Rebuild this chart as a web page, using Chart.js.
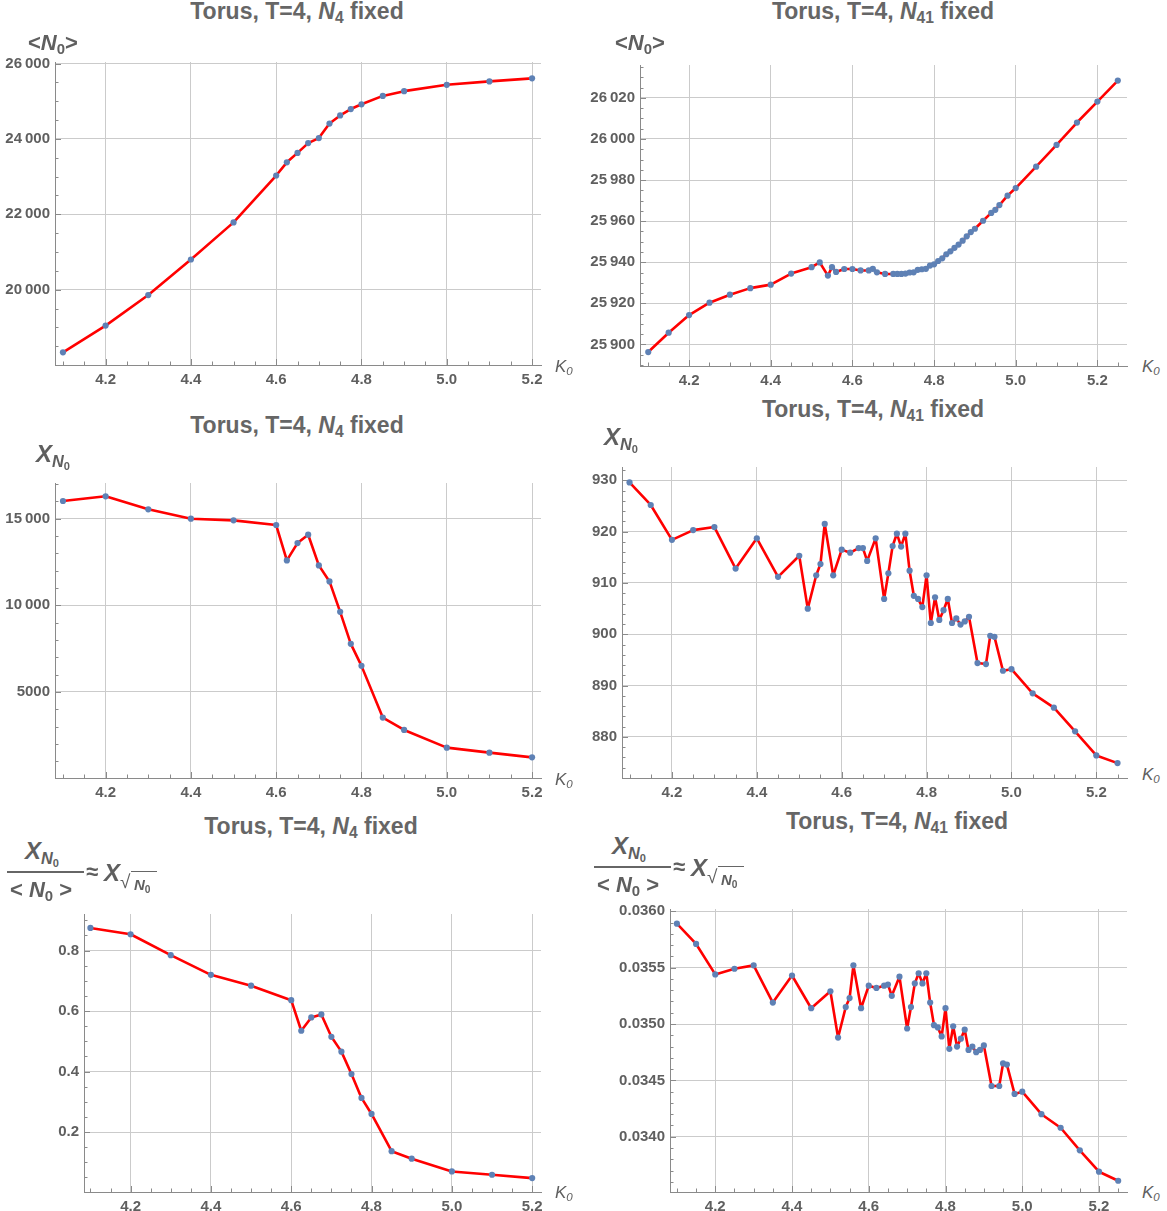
<!DOCTYPE html>
<html>
<head>
<meta charset="utf-8">
<script src="https://cdn.jsdelivr.net/npm/chart.js@4.4.1/dist/chart.umd.min.js"></script>
<style>
body { margin: 0; background: #fff; width: 1167px; height: 1211px; position: relative; overflow: hidden;
       font-family: "Liberation Sans", Arial, sans-serif; color: #5f5f5f; }
canvas { position: absolute; }
.lbl { position: absolute; white-space: nowrap; line-height: 1; z-index: 2; }
.title { font-weight: bold; font-size: 23px; transform: translateX(-50%); color: #666; }
.ylab { font-weight: bold; font-size: 22px; }
.big { font-weight: bold; font-size: 24px; }
.klab { font-style: italic; font-size: 17px; }
sub { font-size: 0.68em; vertical-align: -0.28em; line-height: 0; }
.bar { position: absolute; height: 1.5px; background: #666; z-index: 2; }
</style>
</head>
<body>
<canvas id="c1"></canvas>
<canvas id="c2"></canvas>
<canvas id="c3"></canvas>
<canvas id="c4"></canvas>
<canvas id="c5"></canvas>
<canvas id="c6"></canvas>

<!-- titles -->
<div class="lbl title" style="left:297px;top:0px">Torus, T=4, <i>N</i><sub>4</sub> fixed</div>
<div class="lbl title" style="left:883px;top:0px">Torus, T=4, <i>N</i><sub>41</sub> fixed</div>
<div class="lbl title" style="left:297px;top:414px">Torus, T=4, <i>N</i><sub>4</sub> fixed</div>
<div class="lbl title" style="left:873px;top:398px">Torus, T=4, <i>N</i><sub>41</sub> fixed</div>
<div class="lbl title" style="left:311px;top:815px">Torus, T=4, <i>N</i><sub>4</sub> fixed</div>
<div class="lbl title" style="left:897px;top:810px">Torus, T=4, <i>N</i><sub>41</sub> fixed</div>

<!-- y axis labels -->
<div class="lbl ylab" style="left:28px;top:32px">&lt;<i>N</i><sub>0</sub>&gt;</div>
<div class="lbl ylab" style="left:615px;top:32px">&lt;<i>N</i><sub>0</sub>&gt;</div>
<div class="lbl big" style="left:36px;top:442px"><i>X</i><sub><i>N</i><sub>0</sub></sub></div>
<div class="lbl big" style="left:604px;top:425px"><i>X</i><sub><i>N</i><sub>0</sub></sub></div>
<div id="frac1"></div>
<div id="frac2"></div>

<!-- x axis labels -->
<div class="lbl klab" style="left:555px;top:358px">K<sub>0</sub></div>
<div class="lbl klab" style="left:1142px;top:358px">K<sub>0</sub></div>
<div class="lbl klab" style="left:555px;top:771px">K<sub>0</sub></div>
<div class="lbl klab" style="left:1142px;top:766px">K<sub>0</sub></div>
<div class="lbl klab" style="left:555px;top:1184px">K<sub>0</sub></div>
<div class="lbl klab" style="left:1142px;top:1184px">K<sub>0</sub></div>

<script>
// K0 grid for the N4-fixed runs
const kN4 = [4.1, 4.2, 4.3, 4.4, 4.5, 4.6, 4.625, 4.65, 4.675, 4.7, 4.725, 4.75, 4.775, 4.8,
             4.85, 4.9, 5.0, 5.1, 5.2];
const meanN0_N4 = [18340, 19050, 19860, 20803, 21787, 23030, 23379, 23630, 23889, 24023, 24408,
                   24623, 24792, 24918, 25141, 25267, 25436, 25526, 25606];
const chiN0_N4 = [16021, 16291, 15540, 15000, 14904, 14634, 12592, 13593, 14075, 12303, 11378,
                  9624, 7775, 6503, 3516, 2803, 1782, 1493, 1223];
const ratio_N4 = [0.875, 0.854, 0.785, 0.720, 0.684, 0.636, 0.535, 0.579, 0.589, 0.515, 0.466,
                  0.392, 0.313, 0.260, 0.137, 0.112, 0.070, 0.059, 0.048];

// K0 grid for the N41-fixed runs
const kN41 = [4.1, 4.15, 4.2, 4.25, 4.3, 4.35, 4.4, 4.45, 4.5, 4.52, 4.54, 4.55, 4.56, 4.58,
              4.6, 4.62, 4.64, 4.65, 4.66, 4.68, 4.7, 4.71, 4.72, 4.73, 4.74, 4.75, 4.76, 4.77,
              4.78, 4.79, 4.8, 4.81, 4.82, 4.83, 4.84, 4.85, 4.86, 4.87, 4.88, 4.89, 4.9, 4.92,
              4.94, 4.95, 4.96, 4.98, 5.0, 5.05, 5.1, 5.15, 5.2, 5.25];
const meanN0_N41 = [25896.3, 25905.7, 25914.3, 25920.3, 25924.2, 25927.4, 25929.1, 25934.5,
                    25937.6, 25939.9, 25933.5, 25937.6, 25935.3, 25936.7, 25936.7, 25936.0,
                    25936.0, 25936.8, 25935.1, 25934.3, 25934.3, 25934.3, 25934.3, 25934.5,
                    25935.0, 25935.1, 25936.3, 25936.6, 25936.8, 25938.4, 25939.0, 25940.6,
                    25941.9, 25943.9, 25945.3, 25947.0, 25948.6, 25950.5, 25952.6, 25954.7,
                    25956.3, 25960.2, 25964.0, 25965.5, 25967.8, 25972.4, 25976.1, 25986.5,
                    25997.1, 26008.0, 26018.2, 26028.4];
const chiN0_N41 = [929.6, 925.2, 918.4, 920.3, 920.9, 912.8, 918.7, 911.2, 915.3, 905.0, 911.5,
                   913.7, 921.5, 911.5, 916.5, 915.9, 916.8, 916.8, 914.3, 918.7, 906.9, 911.9,
                   917.2, 919.6, 917.1, 919.6, 912.4, 907.5, 906.9, 905.3, 911.5, 902.2, 907.2,
                   902.8, 904.7, 906.9, 902.2, 903.1, 901.9, 902.5, 903.4, 894.4, 894.2, 899.7,
                   899.5, 892.9, 893.2, 888.5, 885.7, 881.1, 876.4, 874.9];
const ratio_N41 = [0.03589, 0.03571, 0.03544, 0.03549, 0.03552, 0.03519, 0.03543, 0.03514,
                   0.03529, 0.03488, 0.03515, 0.03523, 0.03552, 0.03514, 0.03534, 0.03532,
                   0.03534, 0.03535, 0.03525, 0.03542, 0.03496, 0.03515, 0.03536, 0.03545,
                   0.03536, 0.03545, 0.03519, 0.03499, 0.03497, 0.03489, 0.03514, 0.03478,
                   0.03498, 0.03480, 0.03487, 0.03495, 0.03477, 0.03480, 0.03475, 0.03477,
                   0.03481, 0.03445, 0.03445, 0.03465, 0.03464, 0.03438, 0.03440, 0.03420,
                   0.03408, 0.03388, 0.03369, 0.03361];

const onStep = (v, step) => Math.abs(v / step - Math.round(v / step)) < 1e-6;

// every multiple of step inside the axis range (major + minor)
function stepTicks(scale, step) {
  const out = [];
  for (let k = Math.ceil(scale.min / step - 1e-9); k * step <= scale.max + 1e-12; k++) {
    out.push({ value: parseFloat((k * step).toFixed(8)) });
  }
  scale.ticks = out;
}

// thin-space digit grouping like 26 000
const grouped = v => v >= 10000 ? String(Math.round(v)).replace(/(\d+)(\d{3})$/, '$1\u2009$2') : String(Math.round(v));

// short tick marks pointing into the frame
const ticksInside = {
  id: 'ticksInside',
  beforeDatasetsDraw(chart, args, opts) {
    const { ctx, chartArea: a, scales: { x, y } } = chart;
    ctx.save();
    ctx.strokeStyle = '#8a8a8a';
    ctx.lineWidth = 1;
    ctx.beginPath();
    x.ticks.forEach(t => {
      const px = Math.round(x.getPixelForValue(t.value)) + 0.5;
      const len = onStep(t.value, opts.xMajor) ? 6 : 3.5;
      ctx.moveTo(px, a.bottom);
      ctx.lineTo(px, a.bottom - len);
    });
    y.ticks.forEach(t => {
      const py = Math.round(y.getPixelForValue(t.value)) + 0.5;
      const len = onStep(t.value, opts.yMajor) ? 6 : 3.5;
      ctx.moveTo(a.left, py);
      ctx.lineTo(a.left + len, py);
    });
    ctx.stroke();
    ctx.restore();
  }
};

const tickFont = { family: '"Liberation Sans", Arial, sans-serif', size: 15, weight: 'bold' };

function panel(id, box, kx, vals, xr, yr, yMinor, yMajor, yFmt) {
  const padL = 64, padT = 14, padR = 10, padB = 30;
  const cv = document.getElementById(id);
  cv.width = box.r - box.l + padL + padR;
  cv.height = box.b - box.t + padT + padB;
  cv.style.left = (box.l - padL) + 'px';
  cv.style.top = (box.t - padT) + 'px';

  new Chart(cv, {
    type: 'scatter',
    data: {
      datasets: [{
        data: kx.map((k, i) => ({ x: k, y: vals[i] })),
        showLine: true,
        borderColor: '#ff0000',
        borderWidth: 2.6,
        borderJoinStyle: 'round',
        borderCapStyle: 'round',
        pointRadius: 3.1,
        pointBorderWidth: 0,
        pointBackgroundColor: '#5e81b5',
        tension: 0
      }]
    },
    options: {
      responsive: false,
      animation: false,
      layout: { autoPadding: false, padding: { left: 0, top: padT, right: padR, bottom: 0 } },
      plugins: { legend: { display: false }, tooltip: { enabled: false },
                 ticksInside: { xMajor: 0.2, yMajor: yMajor } },
      scales: {
        x: {
          type: 'linear', min: xr[0], max: xr[1],
          afterBuildTicks: s => stepTicks(s, 0.05),
          afterFit: s => { s.height = padB; },
          border: { color: '#8a8a8a', width: 1 },
          grid: { drawTicks: false, color: c => onStep(c.tick.value, 0.2) ? '#cbcbcb' : 'rgba(0,0,0,0)' },
          ticks: {
            autoSkip: false, maxRotation: 0, padding: 6, color: '#5f5f5f', font: tickFont,
            callback: v => onStep(v, 0.2) ? v.toFixed(1) : ''
          }
        },
        y: {
          type: 'linear', min: yr[0], max: yr[1],
          afterBuildTicks: s => stepTicks(s, yMinor),
          afterFit: s => { s.width = padL; },
          border: { color: '#8a8a8a', width: 1 },
          grid: { drawTicks: false, color: c => onStep(c.tick.value, yMajor) ? '#cbcbcb' : 'rgba(0,0,0,0)' },
          ticks: {
            autoSkip: false, padding: 5, color: '#5f5f5f', font: tickFont,
            callback: v => onStep(v, yMajor) ? yFmt(v) : ''
          }
        }
      }
    },
    plugins: [ticksInside]
  });
}

panel('c1', { l: 55, r: 541, t: 62, b: 365 }, kN4, meanN0_N4,
      [4.0813, 5.221], [18005, 26040], 500, 2000, grouped);
panel('c2', { l: 640, r: 1127, t: 65, b: 366 }, kN41, meanN0_N41,
      [4.0798, 5.2725], [25889.5, 26036], 5, 20, grouped);
panel('c3', { l: 55, r: 541, t: 483, b: 778 }, kN4, chiN0_N4,
      [4.0813, 5.221], [30, 17060], 1000, 5000, grouped);
panel('c4', { l: 622, r: 1127, t: 467, b: 778 }, kN41, chiN0_N41,
      [4.0823, 5.2723], [872.0, 932.6], 2, 10, v => String(Math.round(v)));
panel('c5', { l: 84, r: 541, t: 914, b: 1192 }, kN4, ratio_N4,
      [4.084, 5.222], [0.002, 0.921], 0.05, 0.2, v => v.toFixed(1));
panel('c6', { l: 670, r: 1127, t: 909, b: 1192 }, kN41, ratio_N41,
      [4.082, 5.273], [0.03351, 0.03602], 0.0001, 0.0005, v => v.toFixed(4));

// X_N0 / <N0> ≈ X_sqrt(N0) label, built from positioned pieces
function fracLabel(id, ox, oy) {
  const host = document.getElementById(id);
  const part = (html, cls, x, y, extra) =>
    `<div class="lbl ${cls}" style="left:${ox + x}px;top:${oy + y}px;${extra || ''}">${html}</div>`;
  host.innerHTML =
    part('<i>X</i><sub><i>N</i><sub>0</sub></sub>', 'big', 25, 839) +
    `<div class="bar" style="left:${ox + 7}px;top:${oy + 871}px;width:77px"></div>` +
    part('&lt; <i>N</i><sub>0</sub> &gt;', 'ylab', 10, 879) +
    part('&asymp;', 'ylab', 86, 861) +
    part('<i>X</i>', 'big', 104, 861) +
    part('&radic;', '', 120, 872, 'font-size:19px;') +
    part('<i>N</i><sub>0</sub>', '', 131, 871,
         'font-size:15px;font-weight:bold;border-top:1.3px solid #666;padding:5px 6px 0 3px;');
}
fracLabel('frac1', 0, 0);
fracLabel('frac2', 587, -5);
</script>
</body>
</html>
